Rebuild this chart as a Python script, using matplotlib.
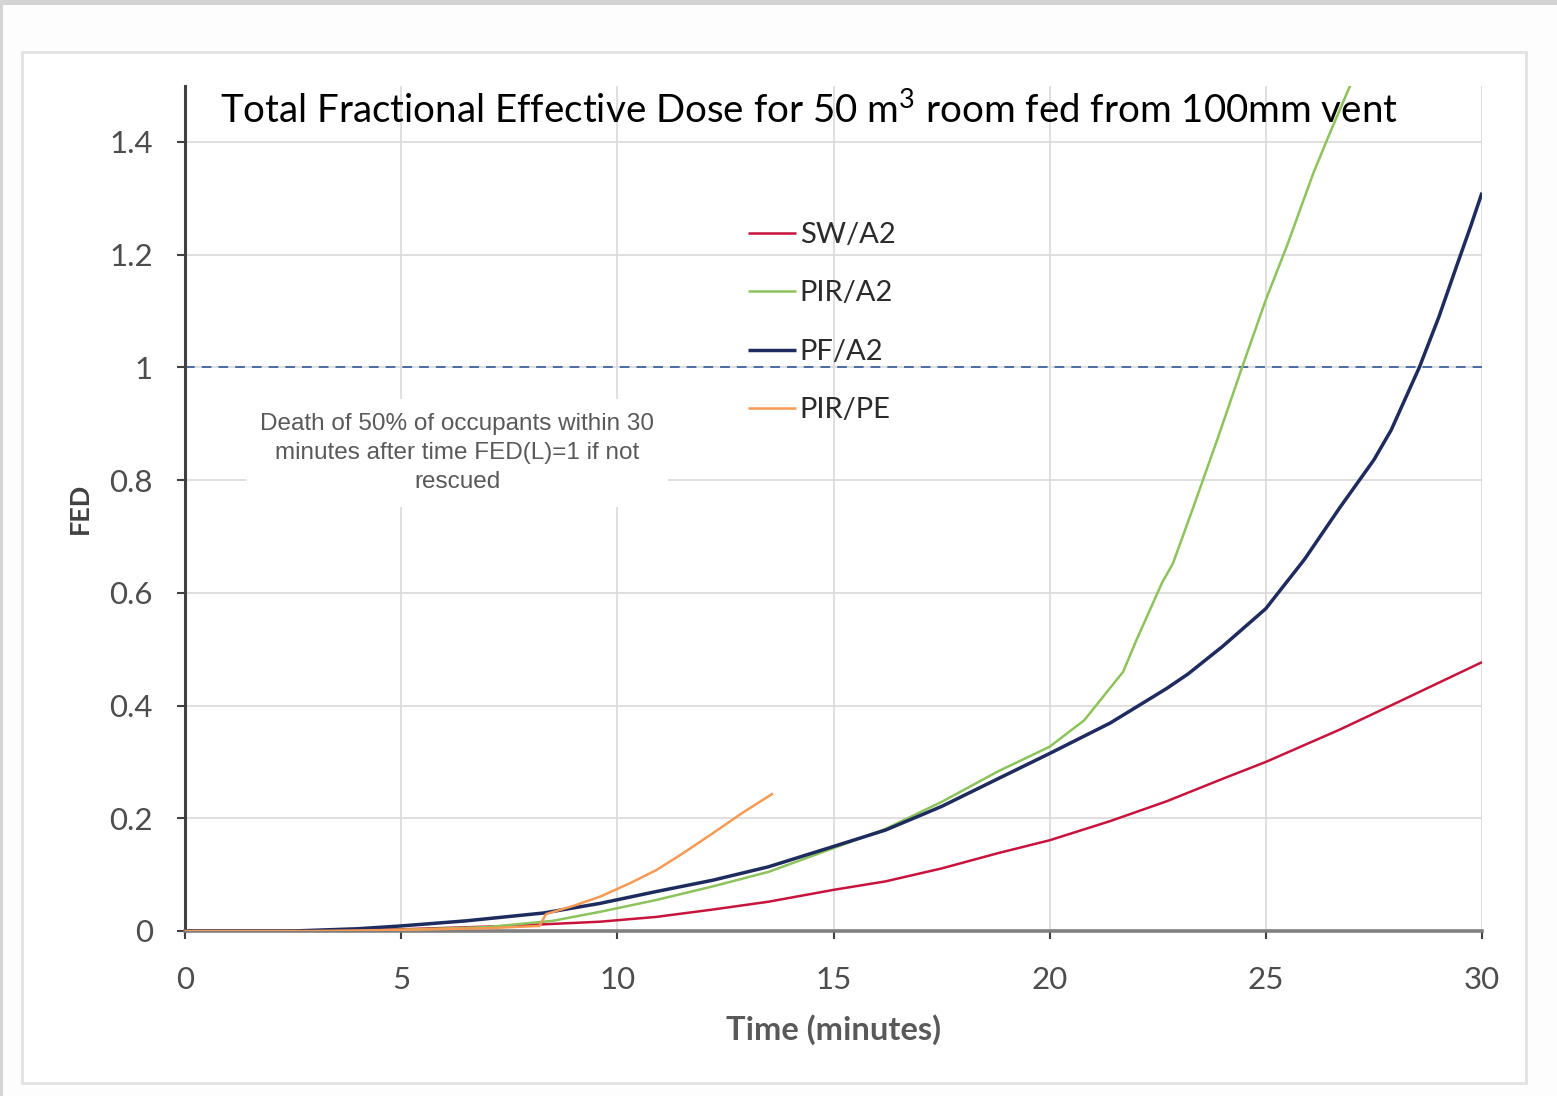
import matplotlib
matplotlib.use("Agg")
import matplotlib.pyplot as plt
from matplotlib.patches import Rectangle

plt.rcParams["mathtext.fontset"] = "custom"
plt.rcParams["mathtext.rm"] = "Lato"
plt.rcParams["mathtext.it"] = "Lato:italic"
plt.rcParams["mathtext.bf"] = "Lato:bold"

# ---- data ----
sw_t = [0, 2.5, 5, 7.5, 9.6, 10.9, 12.2, 13.5, 15, 16.2, 17.5, 18.8, 20, 21.4, 22.7, 24, 25, 26.7, 28, 30]
sw_v = [0, 0.0, 0.003, 0.009, 0.0165, 0.025, 0.038, 0.052, 0.073, 0.088, 0.111, 0.138, 0.161, 0.195, 0.230, 0.270, 0.300, 0.357, 0.404, 0.477]

pir_t = [0, 3, 5, 7, 8.5, 9.6, 10.9, 12.2, 13.5, 15, 16.2, 17.5, 18.8, 20, 20.8, 21.7,
         22.0, 22.6, 22.85, 23.3, 23.9, 24.45, 25.0, 25.5, 26.1, 26.45, 26.95]
pir_v = [0, 0.0, 0.002, 0.007, 0.018, 0.034, 0.055, 0.079, 0.105, 0.147, 0.181, 0.229, 0.283, 0.327, 0.374, 0.46,
         0.515, 0.618, 0.652, 0.747, 0.877, 1.0, 1.12, 1.218, 1.345, 1.41, 1.50]

pf_t = [0, 2.5, 4, 5, 6.5, 8.3, 9.6, 10.9, 12.2, 13.5, 15, 16.2, 17.5, 18.8, 20, 21.4, 22.7, 23.2, 24, 25,
        25.9, 26.7, 27.5, 27.9, 28.55, 29.0, 29.4, 29.75, 30]
pf_v = [0, 0.0, 0.004, 0.009, 0.018, 0.032, 0.049, 0.070, 0.090, 0.114, 0.150, 0.179, 0.221, 0.270, 0.315, 0.369, 0.430, 0.456, 0.505, 0.572,
        0.660, 0.750, 0.836, 0.889, 1.0, 1.089, 1.177, 1.253, 1.31]

pe_t = [0, 3, 5, 7, 8.2, 8.35, 9.0, 9.6, 10.3, 10.9, 11.5, 12.2, 12.9, 13.6]
pe_v = [0, 0.0, 0.002, 0.005, 0.009, 0.03, 0.045, 0.061, 0.085, 0.108, 0.137, 0.173, 0.21, 0.244]

series_labels = ["SW/A2", "PIR/A2", "PF/A2", "PIR/PE"]
series_colors = ["#C8143C", "#8CC35A", "#1E2B5E", "#F59A55"]
series_widths = [1.8, 1.8, 2.5, 1.8]

x_ticks = [0, 5, 10, 15, 20, 25, 30]
y_ticks = [0, 0.2, 0.4, 0.6, 0.8, 1.0, 1.2, 1.4]
y_tick_labels = ["0", "0.2", "0.4", "0.6", "0.8", "1", "1.2", "1.4"]
threshold = 1.0

title = "Total Fractional Effective Dose for 50 m$^{3}$ room fed from 100mm vent"
note = "Death of 50% of occupants within 30\nminutes after time FED(L)=1 if not\nrescued"

W, H = 1557, 1096
fig = plt.figure(figsize=(W / 100, H / 100), dpi=100)
fig.patch.set_facecolor("#FDFDFD")

def fx(px):
    return px / W

def fy(py):
    return 1 - py / H

# outer gray strips and panel
fig.patches.append(Rectangle((0, fy(5)), 1, 5 / H, transform=fig.transFigure,
                             facecolor="#D4D4D4", edgecolor="none", zorder=-5))
fig.patches.append(Rectangle((0, 0), 3 / W, 1, transform=fig.transFigure,
                             facecolor="#D4D4D4", edgecolor="none", zorder=-5))
fig.patches.append(Rectangle((fx(22), fy(1083)), fx(1526) - fx(22), fy(52) - fy(1083),
                             transform=fig.transFigure, facecolor="white",
                             edgecolor="#E2E2E2", linewidth=2, zorder=-5))

ax = fig.add_axes([fx(185), fy(931), fx(1482) - fx(185), fy(85.6) - fy(931)])
ax.set_zorder(1)
ax.set_facecolor("none")
ax.set_xlim(0, 30)
ax.set_ylim(0, 1.5)

ax.set_xticks(x_ticks)
ax.set_yticks(y_ticks)
ax.set_yticklabels(y_tick_labels)
ax.grid(True, color="#D9D9D9", linewidth=1.2, zorder=0)
ax.set_axisbelow(True)

for s in ["top", "right"]:
    ax.spines[s].set_visible(False)
ax.spines["left"].set_color("#404040")
ax.spines["left"].set_linewidth(2.2)
ax.spines["bottom"].set_color("#808080")
ax.spines["bottom"].set_linewidth(2.6)

ax.tick_params(axis="both", direction="out", length=6, width=1.5, color="#404040",
               labelsize=22.5, labelcolor="#4D4D4D")
ax.tick_params(axis="x", pad=19)
ax.tick_params(axis="y", pad=17)
for lab in ax.get_xticklabels() + ax.get_yticklabels():
    lab.set_fontfamily("Lato")

# annotation box (in axes so it sits over gridlines)
ax.text((457 - 185) / (1482 - 185), (931 - 453) / (931 - 85.6), note,
        transform=ax.transAxes, fontfamily="Liberation Sans", fontsize=17.5,
        color="#595959", ha="center", va="center", linespacing=1.42,
        bbox=dict(facecolor="white", edgecolor="none", pad=10), zorder=1)

ax.axhline(threshold, color="#4A6BA5", linewidth=1.4, dashes=(5, 3.6), zorder=2)

data = [(sw_t, sw_v), (pir_t, pir_v), (pf_t, pf_v), (pe_t, pe_v)]
handles = []
for (t, v), lab, c, lw in zip(data, series_labels, series_colors, series_widths):
    h, = ax.plot(t, v, color=c, linewidth=lw, label=lab, zorder=3,
                 solid_capstyle="butt", solid_joinstyle="round")
    handles.append(h)

leg = ax.legend(handles=handles, loc="upper left", frameon=False,
                bbox_to_anchor=(fx(748), fy(222)), bbox_transform=fig.transFigure,
                borderaxespad=0, borderpad=0, handlelength=1.65, handletextpad=0.12,
                labelspacing=1.11, prop={"family": "Lato", "size": 21})
for txt in leg.get_texts():
    txt.set_color("#2B2B2B")

fig.text(fx(834), fy(1030), "Time (minutes)", fontfamily="Lato", fontsize=23.5,
         fontweight="bold", color="#595959", ha="center", va="center")
fig.text(fx(80), fy(508), "FED", fontfamily="Lato", fontsize=19.5, fontweight="bold",
         color="#404040", ha="center", va="center", rotation=90)

ttl = fig.text(fx(220), fy(123), title, fontfamily="Lato", fontsize=28,
               color="black", ha="left", va="baseline", zorder=5)
fig.canvas.draw()
bb = ttl.get_window_extent()
ttl.set_fontsize(28 * 1178 / bb.width)

fig.savefig("out.png", dpi=100, facecolor=fig.get_facecolor())
